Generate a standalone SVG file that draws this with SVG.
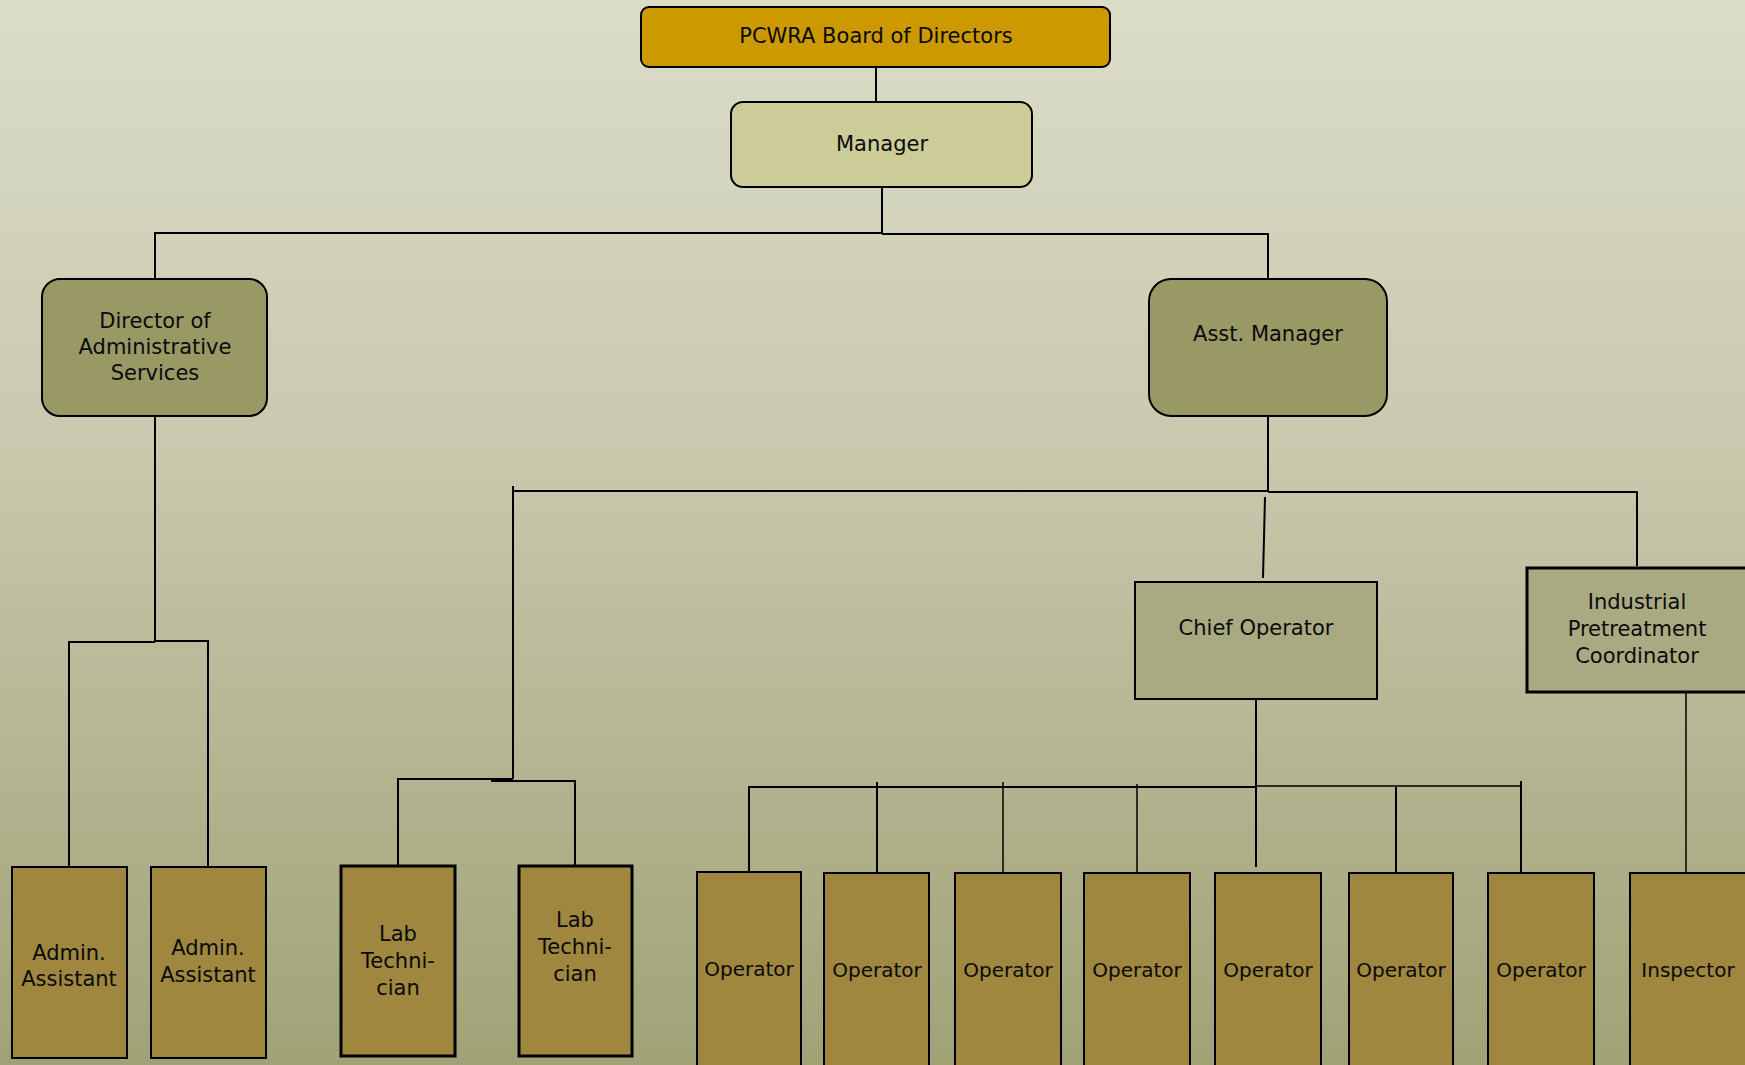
<svg xmlns="http://www.w3.org/2000/svg" width="1745" height="1065" viewBox="0 0 1745 1065">
<defs>
<linearGradient id="bg" x1="0" y1="0" x2="0" y2="1">
<stop offset="0" stop-color="#DCDDC9"/>
<stop offset="0.4" stop-color="#CACAB0"/>
<stop offset="1" stop-color="#A0A276"/>
</linearGradient>
</defs>
<style>
text{font-family:"DejaVu Sans","Verdana",sans-serif;font-size:21px;fill:#0a0a0a;text-anchor:middle}
.op text{font-size:20px}
.n{stroke:#000;stroke-width:2}
.thick{stroke-width:3}
.c line,.c path{stroke:#000;stroke-width:2;fill:none}
.c .t{stroke-width:1.5}
.gold{fill:#CC9900}
.pale{fill:#CCCC99}
.olive{fill:#999966}
.sage{fill:#AAAA82}
.brown{fill:#9F873F}
</style>
<rect x="0" y="0" width="1745" height="1065" fill="url(#bg)"/>
<g class="c" id="connectors">
<line x1="876" y1="67" x2="876" y2="102"/>
<line x1="882" y1="187" x2="882" y2="233"/>
<line x1="155" y1="233" x2="882" y2="233"/>
<line x1="882" y1="234" x2="1268" y2="234"/>
<line x1="155" y1="232" x2="155" y2="279"/>
<line x1="1268" y1="233" x2="1268" y2="279"/>
<line x1="155" y1="416" x2="155" y2="642"/>
<path d="M69 867 V642 H155"/>
<path d="M155 641 H208 V867"/>
<line x1="1268" y1="416" x2="1268" y2="491"/>
<line x1="513" y1="491" x2="1268" y2="491"/>
<path d="M1268 492 H1637 V566"/>
<line x1="513" y1="486" x2="513" y2="779"/>
<path d="M398 866 V779 H513"/>
<path d="M491 781 H575 V866"/>
<line x1="1265" y1="497" x2="1263" y2="578"/>
<line x1="1256" y1="699" x2="1256" y2="787"/>
<line x1="749" y1="787" x2="1256" y2="787"/>
<line class="t" x1="1256" y1="786" x2="1521" y2="786"/>
<line x1="749" y1="786" x2="749" y2="872"/>
<line x1="877" y1="782" x2="877" y2="872"/>
<line class="t" x1="1003" y1="782" x2="1003" y2="872"/>
<line class="t" x1="1137" y1="784" x2="1137" y2="873"/>
<line x1="1256" y1="787" x2="1256" y2="867"/>
<line x1="1396" y1="787" x2="1396" y2="877"/>
<line x1="1521" y1="781" x2="1521" y2="872"/>
<line class="t" x1="1686" y1="692" x2="1686" y2="874"/>
</g>
<g id="board"><rect class="n gold" x="641" y="7" width="469" height="60" rx="8"/><text x="876" y="43">PCWRA Board of Directors</text></g>
<g id="manager"><rect class="n pale" x="731" y="102" width="301" height="85" rx="12"/><text x="882" y="151">Manager</text></g>
<g id="director"><rect class="n olive" x="42" y="279" width="225" height="137" rx="18"/><text x="155" y="328">Director of</text><text x="155" y="354">Administrative</text><text x="155" y="380">Services</text></g>
<g id="asst-manager"><rect class="n olive" x="1149" y="279" width="238" height="137" rx="22"/><text x="1268" y="341">Asst. Manager</text></g>
<g id="chief-operator"><rect class="n sage" x="1135" y="582" width="242" height="117"/><text x="1256" y="635">Chief Operator</text></g>
<g id="ipc"><rect class="n sage thick" x="1527" y="568" width="230" height="124"/><text x="1637" y="609">Industrial</text><text x="1637" y="636">Pretreatment</text><text x="1637" y="663">Coordinator</text></g>
<g id="admin1"><rect class="n brown" x="12" y="867" width="115" height="191"/><text x="69" y="960">Admin.</text><text x="69" y="986">Assistant</text></g>
<g id="admin2"><rect class="n brown" x="151" y="867" width="115" height="191"/><text x="208" y="955">Admin.</text><text x="208" y="982">Assistant</text></g>
<g id="lab1"><rect class="n brown thick" x="341" y="866" width="114" height="190"/><text x="398" y="941">Lab</text><text x="398" y="968">Techni-</text><text x="398" y="995">cian</text></g>
<g id="lab2"><rect class="n brown thick" x="519" y="866" width="113" height="190"/><text x="575" y="927">Lab</text><text x="575" y="954">Techni-</text><text x="575" y="981">cian</text></g>
<g id="op1" class="op"><rect class="n brown" x="697" y="872" width="104" height="200"/><text x="749" y="976">Operator</text></g>
<g id="op2" class="op"><rect class="n brown" x="824" y="873" width="105" height="200"/><text x="877" y="977">Operator</text></g>
<g id="op3" class="op"><rect class="n brown" x="955" y="873" width="106" height="200"/><text x="1008" y="977">Operator</text></g>
<g id="op4" class="op"><rect class="n brown" x="1084" y="873" width="106" height="200"/><text x="1137" y="977">Operator</text></g>
<g id="op5" class="op"><rect class="n brown" x="1215" y="873" width="106" height="200"/><text x="1268" y="977">Operator</text></g>
<g id="op6" class="op"><rect class="n brown" x="1349" y="873" width="104" height="200"/><text x="1401" y="977">Operator</text></g>
<g id="op7" class="op"><rect class="n brown" x="1488" y="873" width="106" height="200"/><text x="1541" y="977">Operator</text></g>
<g id="inspector" class="op"><rect class="n brown" x="1630" y="873" width="130" height="200"/><text x="1688" y="977">Inspector</text></g>
</svg>
